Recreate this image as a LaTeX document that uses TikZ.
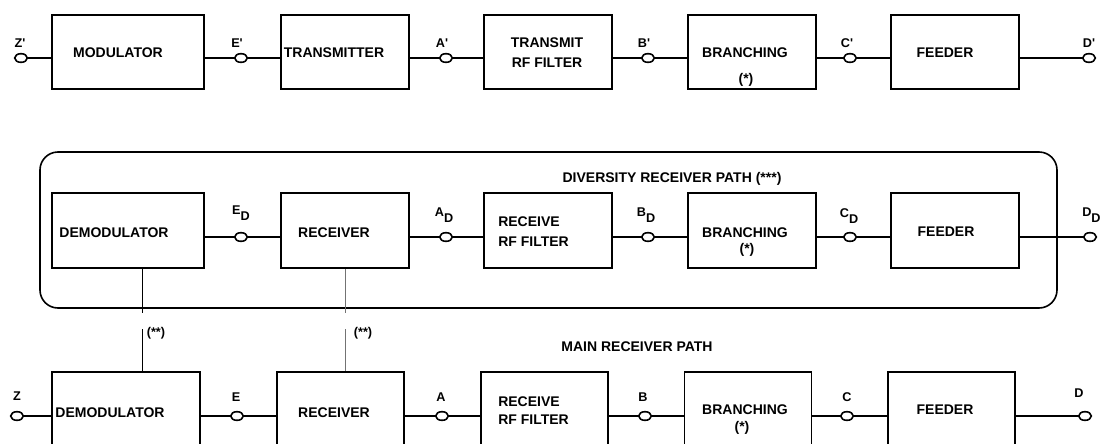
\documentclass[tikz,border=0pt]{standalone}
\usepackage{fontspec}
\setmainfont{Liberation Sans}
\usetikzlibrary{shapes.geometric}

\begin{document}
\begin{tikzpicture}[
  x=0.75pt, y=-0.75pt,
  blk/.style={draw, rectangle, line width=1.2pt, minimum width=96pt, minimum height=55.5pt, inner sep=0pt},
  txt/.style={font=\fontsize{10.5}{15}\selectfont\bfseries, inner sep=0pt, align=center},
  term/.style={draw, ellipse, fill=white, line width=1.2pt, minimum width=9.5pt, minimum height=6.5pt, inner sep=0pt},
  tlab/.style={font=\fontsize{9.5}{11}\selectfont\bfseries, inner sep=0pt},
  wire/.style={line width=1.2pt},
  link/.style={line width=0.6pt}
]
\useasboundingbox (0,0) rectangle (1100,443);
\clip (0,0) rectangle (1100,443);

% transmitter path
\node[blk, minimum width=114pt] (mod) at (128,52) {};
\node[blk] (tx) at (345,52) {};
\node[blk] (txf) at (548,52) {};
\node[blk] (br1) at (752,52) {};
\node[blk] (fd1) at (955,52) {};
\node[txt] (modT) at (118,53) {MODULATOR};
\node[txt] (txT) at (334,53) {TRANSMITTER};
\node[txt] (txfT) at (547,53) {TRANSMIT\\RF FILTER};
\node[txt] (br1T) at (745,53) {BRANCHING};
\node[txt] (br1S) at (746,80) {(*)};
\node[txt] (fd1T) at (945,53) {FEEDER};

\node[term] (tZp) at (21,58) {};
\node[term] (tEp) at (241,58) {};
\node[term] (tAp) at (446,58) {};
\node[term] (tBp) at (648,58) {};
\node[term] (tCp) at (850,58) {};
\node[term] (tDp) at (1089,58) {};
\node[tlab] (lZp) at (20,43) {Z\textquotesingle};
\node[tlab] (lEp) at (237,43) {E\textquotesingle};
\node[tlab] (lAp) at (442,43) {A\textquotesingle};
\node[tlab] (lBp) at (644,43) {B\textquotesingle};
\node[tlab] (lCp) at (847,43) {C\textquotesingle};
\node[tlab] (lDp) at (1089,43) {D\textquotesingle};

\draw[wire] (tZp) -- (tZp -| mod.west);
\draw[wire] (mod.east |- tEp) -- (tEp) -- (tEp -| tx.west);
\draw[wire] (tx.east |- tAp) -- (tAp) -- (tAp -| txf.west);
\draw[wire] (txf.east |- tBp) -- (tBp) -- (tBp -| br1.west);
\draw[wire] (br1.east |- tCp) -- (tCp) -- (tCp -| fd1.west);
\draw[wire] (fd1.east |- tDp) -- (tDp);

% diversity receiver path
\node[draw, rectangle, rounded corners=13.5pt, line width=1.2pt, minimum width=762.75pt, minimum height=117pt] (divbox) at (548.5,230) {};
\node[txt] (divT) at (672,179) {DIVERSITY RECEIVER PATH (***)};
\node[blk, minimum width=114pt, minimum height=56.25pt] (dmD) at (128,230.5) {};
\node[blk, minimum height=56.25pt] (rxD) at (345,230.5) {};
\node[blk, minimum height=56.25pt] (rfD) at (548,230.5) {};
\node[blk, minimum height=56.25pt] (brD) at (752,230.5) {};
\node[blk, minimum height=56.25pt] (fdD) at (955,230.5) {};
\node[txt] (dmDT) at (114,233) {DEMODULATOR};
\node[txt] (rxDT) at (334,233) {RECEIVER};
\node[txt, align=left, anchor=west] (rfDT) at (498,231.5) {RECEIVE\\RF FILTER};
\node[txt] (brDT) at (745,233) {BRANCHING};
\node[txt] (brDS) at (747,250) {(*)};
\node[txt] (fdDT) at (946,232) {FEEDER};

\node[term] (tED) at (241,237) {};
\node[term] (tAD) at (446,237) {};
\node[term] (tBD) at (648,237) {};
\node[term] (tCD) at (850,237) {};
\node[term] (tDD) at (1090,237) {};
\node[tlab] (lED) at (241,213) {E\raisebox{-5pt}{D}};
\node[tlab] (lAD) at (444,215) {A\raisebox{-5pt}{D}};
\node[tlab] (lBD) at (646,215) {B\raisebox{-5pt}{D}};
\node[tlab] (lCD) at (849,216) {C\raisebox{-5pt}{D}};
\node[tlab, anchor=west] (lDD) at (1082,215) {D\raisebox{-5pt}{D}};

\draw[wire] (dmD.east |- tED) -- (tED) -- (tED -| rxD.west);
\draw[wire] (rxD.east |- tAD) -- (tAD) -- (tAD -| rfD.west);
\draw[wire] (rfD.east |- tBD) -- (tBD) -- (tBD -| brD.west);
\draw[wire] (brD.east |- tCD) -- (tCD) -- (tCD -| fdD.west);
\draw[wire] (fdD.east |- tDD) -- (tDD);

% main receiver path
\node[txt] (mainT) at (637,347) {MAIN RECEIVER PATH};
\node[blk, minimum width=111pt, minimum height=56.25pt] (dm) at (126,409.5) {};
\node[blk, minimum width=95.25pt, minimum height=56.25pt] (rx) at (340.5,409.5) {};
\node[blk, minimum width=95.25pt, minimum height=56.25pt] (rf) at (544.5,409.5) {};
\node[blk, minimum width=95.25pt, minimum height=56.25pt] (br) at (748,409.5) {};
\node[blk, minimum width=95.25pt, minimum height=56.25pt] (fd) at (951.5,409.5) {};
\node[txt] (dmT) at (110,413) {DEMODULATOR};
\node[txt] (rxT) at (334,413) {RECEIVER};
\node[txt, align=left, anchor=west, font=\fontsize{10.5}{13.5}\selectfont\bfseries] (rfT) at (498,411) {RECEIVE\\RF FILTER};
\node[txt] (brT) at (745,410) {BRANCHING};
\node[txt] (brS) at (742,428) {(*)};
\node[txt] (fdT) at (945,410) {FEEDER};

\node[term] (tZ) at (17,416) {};
\node[term] (tE) at (237,416) {};
\node[term] (tA) at (442,416) {};
\node[term] (tB) at (645,416) {};
\node[term] (tC) at (847,416) {};
\node[term] (tD) at (1085,416) {};
\node[tlab] (lZ) at (17,396) {Z};
\node[tlab] (lE) at (236,397) {E};
\node[tlab] (lA) at (441,397) {A};
\node[tlab] (lB) at (643,397) {B};
\node[tlab] (lC) at (847,397) {C};
\node[tlab] (lD) at (1079,393) {D};

\draw[wire] (tZ) -- (tZ -| dm.west);
\draw[wire] (dm.east |- tE) -- (tE) -- (tE -| rx.west);
\draw[wire] (rx.east |- tA) -- (tA) -- (tA -| rf.west);
\draw[wire] (rf.east |- tB) -- (tB) -- (tB -| br.west);
\draw[wire] (br.east |- tC) -- (tC) -- (tC -| fd.west);
\draw[wire] (fd.east |- tD) -- (tD);

% links between the two receiver paths
\coordinate (g1a) at (142,313);
\coordinate (g1b) at (142,329);
\coordinate (g2a) at (345,313);
\coordinate (g2b) at (345,329);
\draw[link] (dmD.south -| g1a) -- (g1a);
\draw[link] (g1b) -- (g1b |- dm.north);
\draw[link, draw=black!55] (rxD.south -| g2a) -- (g2a);
\draw[link, draw=black!55] (g2b) -- (g2b |- rx.north);
\node[tlab] (lk1) at (156,333) {(**)};
\node[tlab] (lk2) at (363,333) {(**)};
\end{tikzpicture}
\end{document}
